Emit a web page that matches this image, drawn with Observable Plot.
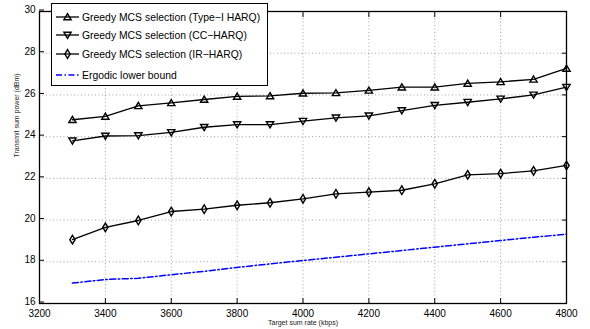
<!DOCTYPE html>
<html><head><meta charset="utf-8">
<script src="https://cdn.jsdelivr.net/npm/d3@7"></script>
<script src="https://cdn.jsdelivr.net/npm/@observablehq/plot@0.6"></script>
<style>
body{margin:0;background:#fff;font-family:"Liberation Sans",Arial,sans-serif;}
#wrap{position:relative;width:590px;height:329px;}
#legend{position:absolute;left:51px;top:3px;width:217px;height:83px;background:#fff;border:1.3px solid #000;box-sizing:border-box;}
#legend svg{display:block;}
</style></head>
<body><div id="wrap"></div>
<script>
const rates = [3300,3400,3500,3600,3700,3800,3900,4000,4100,4200,4300,4400,4500,4600,4700,4800];
const typeI = [24.81,24.97,25.48,25.62,25.78,25.93,25.95,26.08,26.1,26.22,26.37,26.37,26.55,26.63,26.75,27.27];
const ccHarq = [23.8,24.03,24.05,24.2,24.45,24.58,24.58,24.74,24.9,25.0,25.25,25.5,25.65,25.81,26.0,26.37];
const irHarq = [19.06,19.65,19.98,20.41,20.52,20.71,20.83,21.02,21.26,21.34,21.43,21.74,22.17,22.23,22.36,22.62];
const ergodic = [16.98,17.15,17.21,17.38,17.54,17.73,17.9,18.06,18.22,18.38,18.54,18.7,18.86,19.02,19.18,19.32];
const seriesNames = ["Greedy MCS selection (Type\u2212I HARQ)","Greedy MCS selection (CC\u2212HARQ)","Greedy MCS selection (IR\u2212HARQ)","Ergodic lower bound"];
const xTicks = [3200,3400,3600,3800,4000,4200,4400,4600,4800];
const yTicks = [16,18,20,22,24,26,28,30];
const xLabel = "Target sum rate (kbps)";
const yLabel = "Transmit sum power (dBm)";

const rOf = s => Math.sqrt(s/Math.PI);
const triUp = {draw(c,s){const r=rOf(s);c.moveTo(0,-r*1.0);c.lineTo(r*1.1,r*0.85);c.lineTo(-r*1.1,r*0.85);c.closePath();}};
const triDown = {draw(c,s){const r=rOf(s);c.moveTo(0,r*1.0);c.lineTo(r*1.1,-r*0.85);c.lineTo(-r*1.1,-r*0.85);c.closePath();}};
const diamond = {draw(c,s){const r=rOf(s);c.moveTo(0,-r*1.3);c.lineTo(r*0.8,0);c.lineTo(0,r*1.3);c.lineTo(-r*0.8,0);c.closePath();}};

const mk = (arr) => rates.map((x,i)=>({x, y:arr[i]}));
const dI = mk(typeI), dC = mk(ccHarq), dR = mk(irHarq), dE = mk(ergodic);

const tickLen = 5;
const R = 3.3;
const fmt = d3.format("d");
const chart = Plot.plot({
  width:590, height:329,
  marginLeft:39, marginRight:24, marginTop:11, marginBottom:26,
  style:{fontFamily:'"Liberation Sans",Arial,sans-serif', fontSize:"10px", color:"#000", background:"#fff"},
  x:{domain:[3200,4800]},
  y:{domain:[16,30]},
  marks:[
    Plot.gridX(xTicks,{stroke:"#000", strokeOpacity:0.45, strokeDasharray:"1,2.5", strokeWidth:0.8}),
    Plot.gridY(yTicks,{stroke:"#000", strokeOpacity:0.45, strokeDasharray:"1,2.5", strokeWidth:0.8}),
    Plot.axisX(xTicks,{anchor:"bottom", tickSize:-tickLen, tickPadding:tickLen+6, tickFormat:fmt, label:null, fontSize:10}),
    Plot.axisX(xTicks,{anchor:"top", tickSize:-tickLen, text:null, label:null}),
    Plot.axisY(yTicks,{anchor:"left", tickSize:-tickLen, tickPadding:tickLen+4, tickFormat:fmt, label:null, fontSize:10, dy:-1.5}),
    Plot.axisY(yTicks,{anchor:"right", tickSize:-tickLen, text:null, label:null}),
    Plot.line(dE,{x:"x",y:"y",stroke:"#0000ff",strokeWidth:1.5,strokeDasharray:"6,2.5,1.5,2.5"}),
    Plot.line(dI,{x:"x",y:"y",stroke:"#000",strokeWidth:1.3}),
    Plot.line(dC,{x:"x",y:"y",stroke:"#000",strokeWidth:1.3}),
    Plot.line(dR,{x:"x",y:"y",stroke:"#000",strokeWidth:1.3}),
    Plot.dot(dI,{x:"x",y:"y",symbol:triUp,r:R,stroke:"#000",fill:"none",strokeWidth:1.4}),
    Plot.dot(dC,{x:"x",y:"y",symbol:triDown,r:R,stroke:"#000",fill:"none",strokeWidth:1.4}),
    Plot.dot(dR,{x:"x",y:"y",symbol:diamond,r:R,stroke:"#000",fill:"none",strokeWidth:1.4}),
    Plot.frame({stroke:"#000",strokeWidth:1.3}),
    Plot.text([xLabel],{frameAnchor:"bottom",dy:21,fontSize:7,fill:"#222"}),
    Plot.text([yLabel],{frameAnchor:"left",dx:-23,rotate:-90,fontSize:7,fill:"#222"})
  ]
});
const wrap = document.getElementById("wrap");
wrap.appendChild(chart);

// legend
const leg = document.createElement("div");
leg.id = "legend";
const rowsY = [13,31,50,71];
const syms = [triUp, triDown, diamond, null];
const W = 214, H = 80;
const svg = d3.create("svg").attr("width",W).attr("height",H);
seriesNames.forEach((name,i)=>{
  const y = rowsY[i];
  const g = svg.append("g");
  if(i<3){
    g.append("line").attr("x1",4).attr("x2",27).attr("y1",y).attr("y2",y).attr("stroke","#000").attr("stroke-width",1.3);
    g.append("path").attr("d", d3.symbol(syms[i], R*R*Math.PI)()).attr("transform",`translate(15.5,${y})`).attr("fill","none").attr("stroke","#000").attr("stroke-width",1.4);
  } else {
    g.append("line").attr("x1",4).attr("x2",27).attr("y1",y).attr("y2",y).attr("stroke","#0000ff").attr("stroke-width",1.5).attr("stroke-dasharray","6,2.5,1.5,2.5");
  }
  g.append("text").attr("x",30).attr("y",y).attr("dy","0.35em").attr("font-size","10.4px").attr("font-family",'"Liberation Sans",Arial,sans-serif').attr("fill","#000").text(name);
});
leg.appendChild(svg.node());
wrap.appendChild(leg);
</script>
</body></html>
